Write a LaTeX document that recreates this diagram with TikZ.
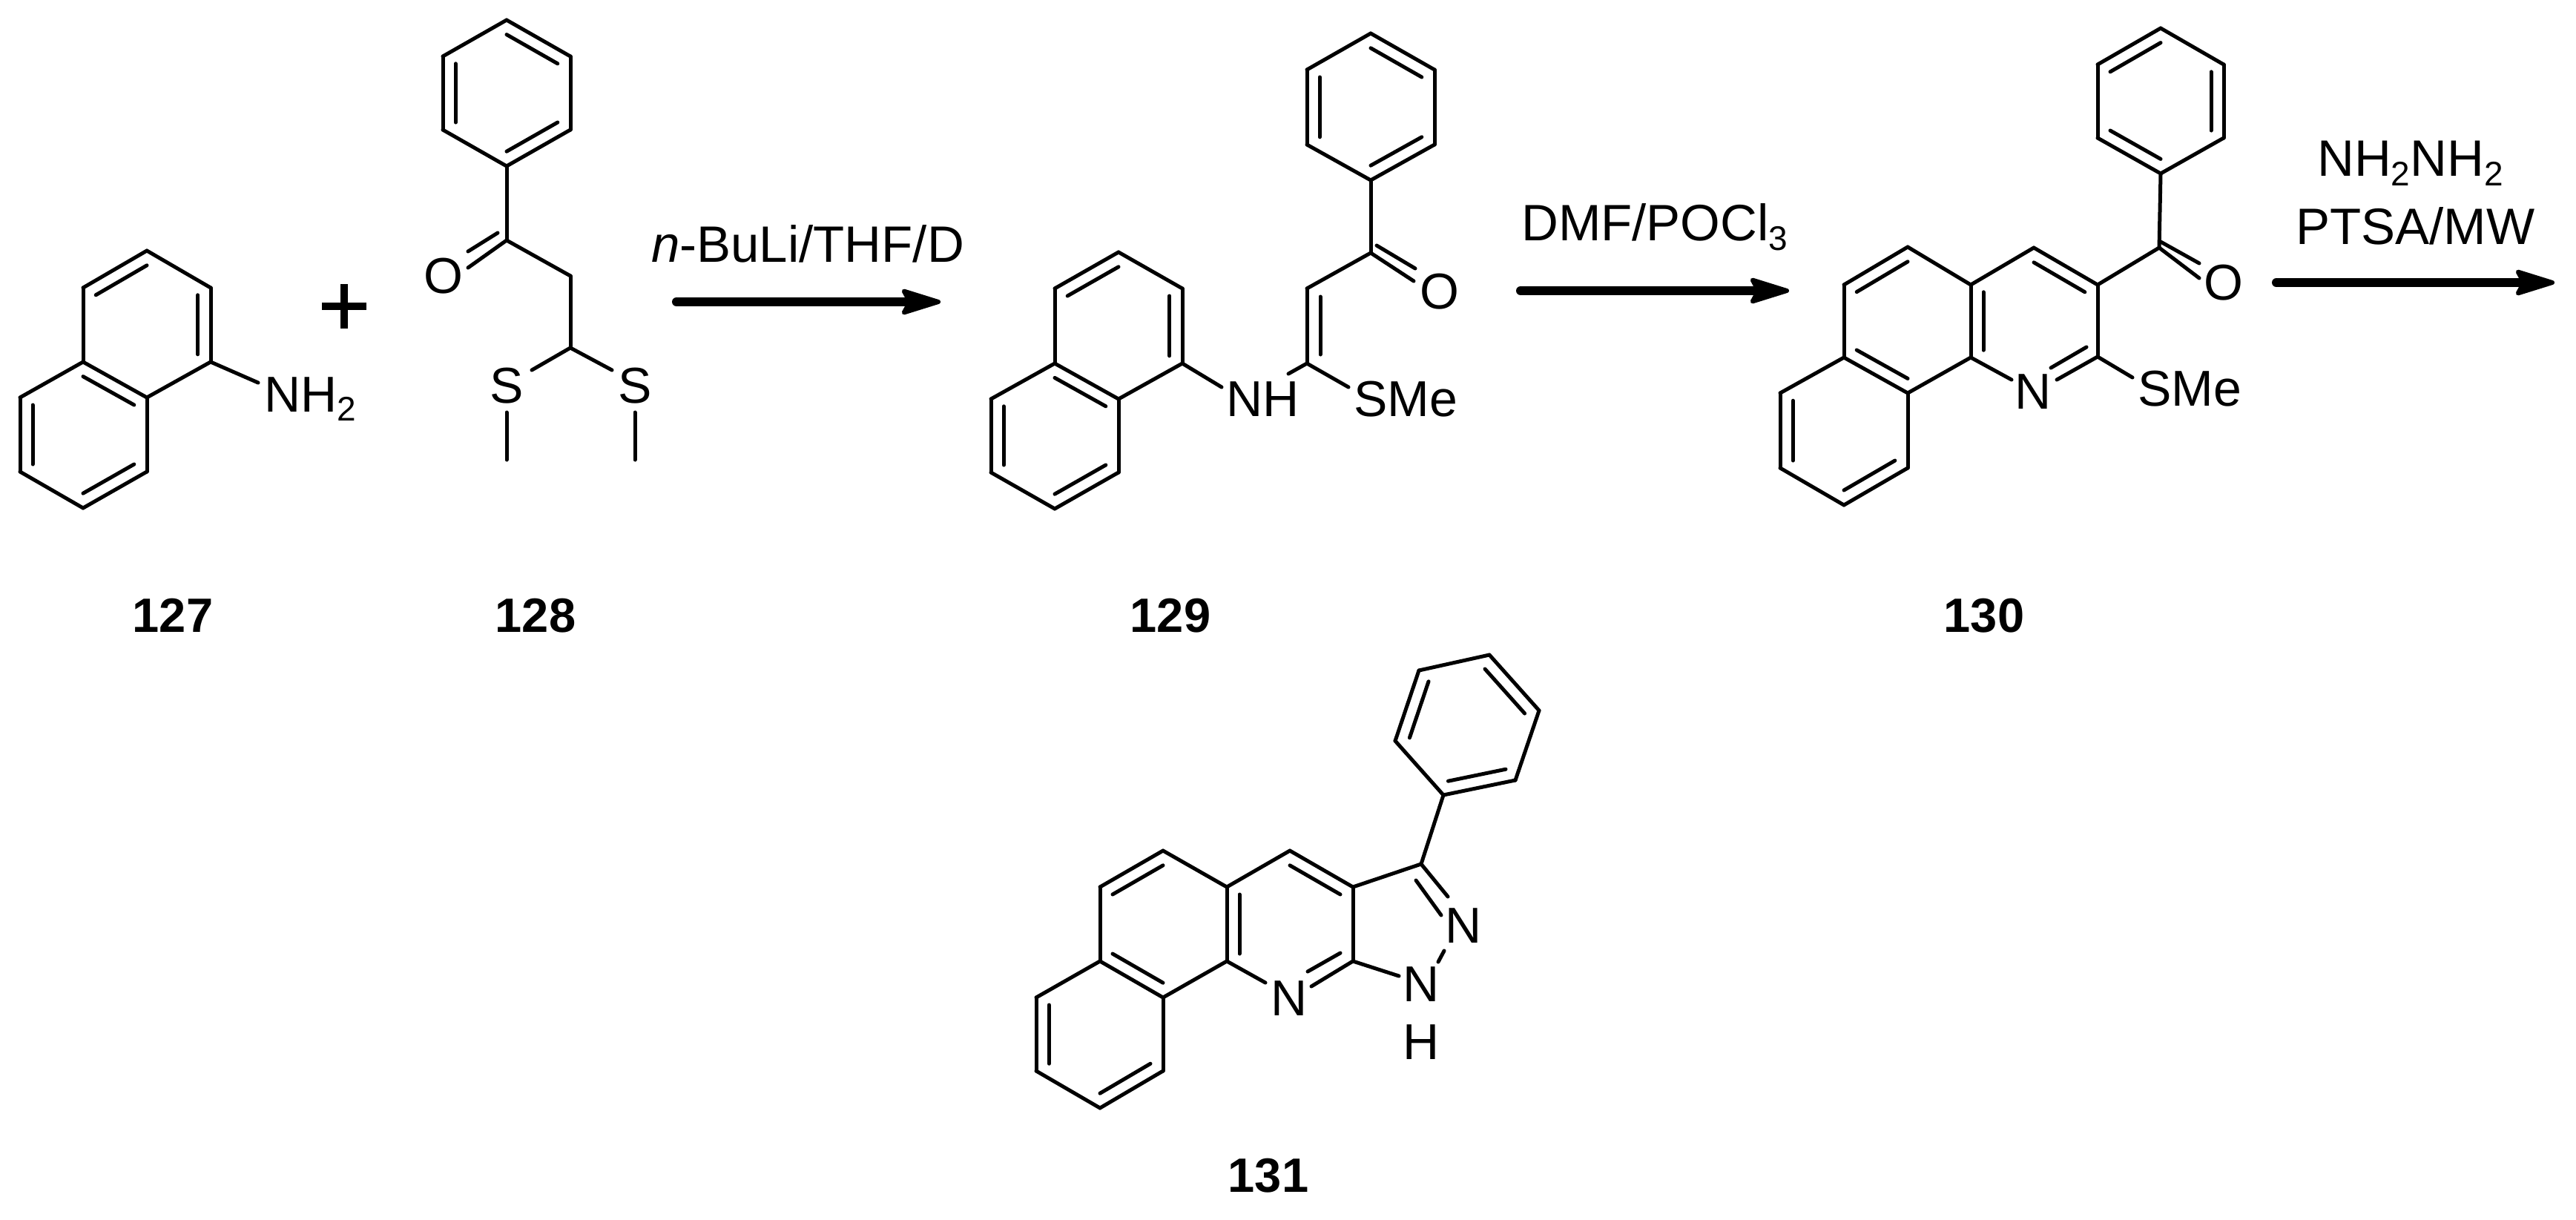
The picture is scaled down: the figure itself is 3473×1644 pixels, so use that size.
\documentclass[tikz,border=0pt]{standalone}
\usepackage{fontspec}
\setmainfont{Liberation Sans}
\usetikzlibrary{calc,arrows.meta}
\newcommand{\pts}[1]{\foreach \n/\xx/\yy in {#1} {\coordinate (\n) at (\xx,\yy);}}
\newcommand{\bonds}[1]{\foreach \aa/\bb in {#1} {\draw[bond] (\aa) -- (\bb);}}
% inner line of a ring double bond: a, b, ring centre
\newcommand{\dbl}[1]{\foreach \aa/\bb/\cc in {#1} {\draw[bond] ($(\aa)!.2!(\cc)$) -- ($(\bb)!.2!(\cc)$);}}
\newcommand{\subs}[1]{\raisebox{-0.19em}{\fontsize{46}{50}\selectfont #1}}
\tikzset{
  bond/.style={line width=5pt,line cap=round,line join=round},
  atom/.style={inner sep=0pt,font=\fontsize{68}{82}\selectfont},
  reag/.style={inner sep=0pt,anchor=base west,font=\fontsize{69}{82}\selectfont},
  cmpd/.style={inner sep=0pt,anchor=center,font=\fontsize{65}{80}\selectfont\bfseries},
  rxn/.style={line width=12pt,line cap=round,-{Stealth[length=62pt,width=38pt,inset=10pt,round,line width=6pt]}},
}
\begin{document}
\begin{tikzpicture}[x=1pt,y=-1pt]
\useasboundingbox (0,0) rectangle (3473,1644);
% ---- 127
\pts{a1/198/338,a2/284/388,a3/284/488,a4/198/536,a5/112/488,a6/112/388,a7/27/536,a8/27/636,a9/112/685,a10/198/636,aN/348/516,ac1/198/437,ac2/112/586}
\bonds{a1/a2,a2/a3,a3/a4,a4/a5,a5/a6,a6/a1,a5/a7,a7/a8,a8/a9,a9/a10,a10/a4,a3/aN}
\dbl{a2/a3/ac1,a6/a1/ac1,a5/a4/ac2,a7/a8/ac2,a9/a10/ac2}
\node[atom,anchor=base west] (nh2) at (356,555) {NH\subs{2}};
\coordinate (plus) at (464,413);
\draw[line width=10pt] ($(plus)+(-30,0)$) -- ($(plus)+(30,0)$) ($(plus)+(0,-30)$) -- ($(plus)+(0,30)$);
\node[cmpd] (l127) at (233,830) {127};
% ---- 128
\pts{b1/683/27,b2/769/76,b3/769/175,b4/683/224,b5/597/175,b6/597/76,b7/683/324,b8/769/372,b9/769/469,bc/683/125,
bO1/631/361,bO2/671/314,bO3/631/339,bS1/717/499,bS2/825/499,bM1a/683/556,bM1b/683/620,bM2a/856/556,bM2b/856/620}
\bonds{b1/b2,b2/b3,b3/b4,b4/b5,b5/b6,b6/b1,b4/b7,b7/b8,b8/b9,b9/bS1,b9/bS2,bM1a/bM1b,bM2a/bM2b,b7/bO1,bO2/bO3}
\dbl{b1/b2/bc,b3/b4/bc,b5/b6/bc}
\node[atom] (bO) at (598,372) {O};
\node[atom] (bSa) at (683,520) {S};
\node[atom] (bSb) at (856,520) {S};
\node[cmpd] (l128) at (722,830) {128};
% ---- arrow 1
\node[reag] (t1) at (878,353) {\textit{n}-BuLi/THF/D};
\pts{r1a/912/407,r1b/1268/407}
\draw[rxn] (r1a) -- (r1b);
% ---- 129
\pts{c1/1508/340,c2/1594/389,c3/1594/490,c4/1508/538,c5/1422/490,c6/1422/389,c7/1336/538,c8/1336/637,c9/1422/686,c10/1508/637,cc1/1508/439,cc2/1422/587,
cN1/1647/522,d1/1848/45,d2/1934/94,d3/1934/195,d4/1848/243,d5/1762/195,d6/1762/94,dc/1848/144,d7/1848/341,d8/1762/389,d9/1762/490,
dO1/1906/379,dO2/1856/331,dO3/1908/362,dN/1737/504,dS/1818/522,d8b/1780/400,d9b/1780/478}
\bonds{c1/c2,c2/c3,c3/c4,c4/c5,c5/c6,c6/c1,c5/c7,c7/c8,c8/c9,c9/c10,c10/c4,c3/cN1,
d1/d2,d2/d3,d3/d4,d4/d5,d5/d6,d6/d1,d4/d7,d7/d8,d8/d9,d9/dN,d9/dS,d7/dO1,dO2/dO3,d8b/d9b}
\dbl{c2/c3/cc1,c6/c1/cc1,c5/c4/cc2,c7/c8/cc2,c9/c10/cc2,d1/d2/dc,d3/d4/dc,d5/d6/dc}
\node[atom] (dO) at (1941,393) {O};
\node[atom,anchor=base west] (dNH) at (1653,561) {NH};
\node[atom,anchor=base west] (dSMe) at (1825,561) {SMe};
\node[cmpd] (l129) at (1578,830) {129};
% ---- arrow 2
\node[reag] (t2) at (2051,324) {DMF/POCl\subs{3}};
\pts{r2a/2050/392,r2b/2412/392}
\draw[rxn] (r2a) -- (r2b);
% ---- 130
\pts{e1/2913/38,e2/2998/87,e3/2998/186,e4/2913/234,e5/2828/186,e6/2828/87,ec/2913/136,e7/2911/334,e8/2828/384,e9/2742/334,e10/2657/384,e11/2657/482,e12/2828/481,
eNl/2712/512,eNr/2773/512,eNi1/2813/468,eNi2/2765/496,eSb/2875/509,
f1/2572/333,f2/2486/384,f3/2486/482,f4/2572/530,f5/2400/530,f6/2400/631,f7/2486/681,f8/2572/631,
fc1/2572/432,fc2/2486/581,fc3/2742/433,eO1/2965/375,eO2/2913/326,eO3/2965/355}
\bonds{e1/e2,e2/e3,e3/e4,e4/e5,e5/e6,e6/e1,e4/e7,e7/e8,e8/e9,e9/e10,e10/e11,e8/e12,e11/eNl,e12/eNr,e12/eSb,e7/eO1,eO2/eO3,eNi1/eNi2,
e10/f1,f1/f2,f2/f3,f3/f4,f4/e11,f3/f5,f5/f6,f6/f7,f7/f8,f8/f4}
\dbl{e2/e3/ec,e4/e5/ec,e6/e1/ec,e9/e8/fc3,e10/e11/fc3,f1/f2/fc1,f3/f4/fc1,f5/f6/fc2,f7/f8/fc2}
\node[atom] (eN) at (2741,528) {N};
\node[atom,anchor=base west] (eSMe) at (2882,547) {SMe};
\node[atom] (eO) at (2998,381) {O};
\node[cmpd] (l130) at (2675,830) {130};
% ---- arrow 3
\node[reag] (t3a) at (3124,237) {NH\subs{2}NH\subs{2}};
\node[reag] (t3b) at (3095,329) {PTSA/MW};
\pts{r3a/3069/381,r3b/3444/381}
\draw[rxn] (r3a) -- (r3b);
% ---- 131
\pts{g1/2008/883,g2/2075/958,g3/2043/1052,g4/1946/1072,g5/1881/999,g6/1913/904,gc/1978/978,
g7/1916/1165,g8/1824/1196,g9/1739/1147,g10/1654/1196,g11/1654/1296,g12/1824/1296,
gNl/1706/1325,gNr/1768/1330,gNi1/1807/1285,gNi2/1763/1310,gNN1/1886/1316,gN2a/1952/1209,gN2b/1909/1187,gN2c/1943/1234,gNNa/1947/1282,gNNb/1939/1297,
h1/1568/1147,h2/1483/1196,h3/1483/1296,h4/1568/1345,h5/1397/1345,h6/1397/1444,h7/1483/1494,h8/1568/1444,hc1/1568/1246,hc2/1483/1395,hc3/1739/1246}
\bonds{g1/g2,g2/g3,g3/g4,g4/g5,g5/g6,g6/g1,g4/g7,g7/g8,g8/g9,g9/g10,g10/g11,g8/g12,g11/gNl,g12/gNr,gNi1/gNi2,g12/gNN1,g7/gN2a,gN2b/gN2c,gNNa/gNNb,
g10/h1,h1/h2,h2/h3,h3/h4,h4/g11,h3/h5,h5/h6,h6/h7,h7/h8,h8/h4}
\dbl{g1/g2/gc,g3/g4/gc,g5/g6/gc,g9/g8/hc3,g10/g11/hc3,h1/h2/hc1,h3/h4/hc1,h5/h6/hc2,h7/h8/hc2}
\node[atom] (gN) at (1738,1346) {N};
\node[atom] (gN2) at (1973,1248) {N};
\node[atom] (gN1) at (1916,1327) {N};
\node[atom] (gH) at (1916,1405) {H};
\node[cmpd] (l131) at (1710,1585) {131};
\end{tikzpicture}
\end{document}
